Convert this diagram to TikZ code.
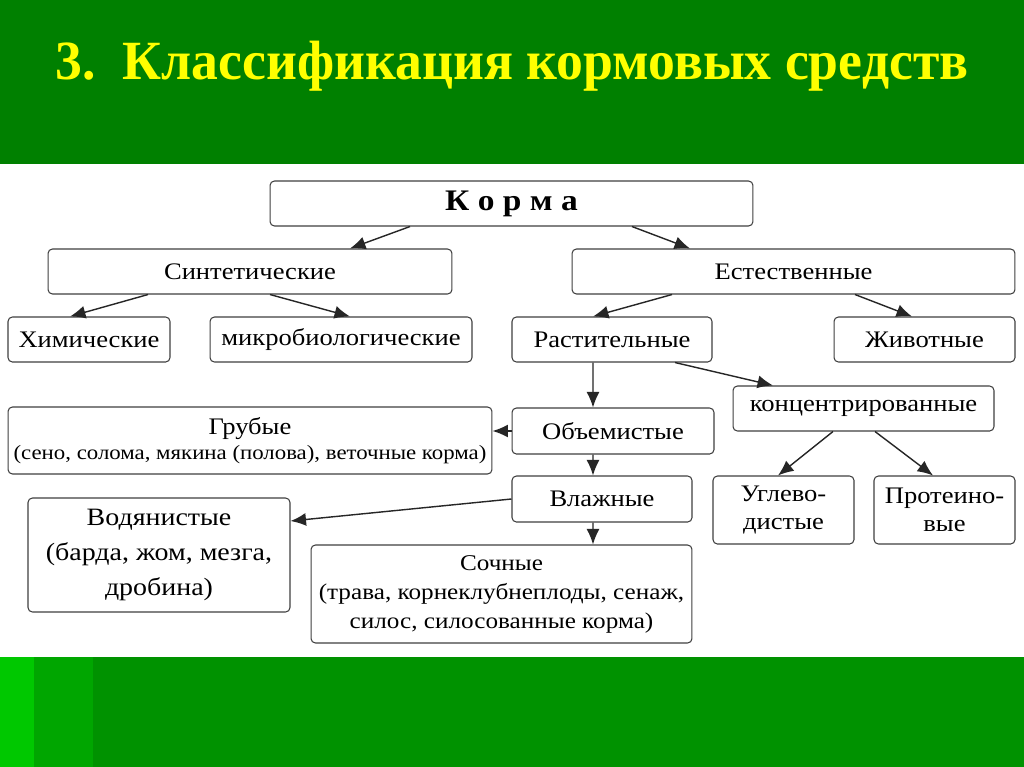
\documentclass[tikz,border=0pt]{standalone}
\usepackage{fontspec}
\usepackage{tikz}
\setmainfont{Liberation Serif}
\newfontfamily\boxfont[FakeStretch=1.12]{Liberation Serif}
\newfontfamily\titlefont[FakeStretch=0.97]{Liberation Serif}
\definecolor{topgreen}{RGB}{0,128,0}
\definecolor{botgreen}{RGB}{0,146,0}
\definecolor{stripeA}{RGB}{0,200,0}
\definecolor{stripeB}{RGB}{0,166,0}
\definecolor{titleyellow}{RGB}{255,255,0}
\usetikzlibrary{arrows.meta,calc}
\tikzset{box/.style = {draw=black!75, line width=0.6pt, rounded corners=2.5pt, fill=white,
    inner sep=0pt, align=center, minimum height=9mm, font=\boxfont\fontsize{13.5}{15}\selectfont},
  arr/.style = {-{Latex[length=3.1mm,width=2.6mm]}, line width=0.8pt, black!85}}

\begin{document}
\begin{tikzpicture}[x=0.02cm, y=-0.02cm]
      \useasboundingbox (0,0) rectangle (1024,767);
      % backgrounds
      \fill [topgreen] (0,0) rectangle (1024,164);
      \fill [white] (0,164) rectangle (1024,657);
      \fill [botgreen] (0,657) rectangle (1024,767);
      \fill [stripeA] (0,657) rectangle (34,767);
      \fill [stripeB] (34,657) rectangle (93,767);
      \node [font=\titlefont\bfseries\fontsize{31.5}{34}\selectfont, text=titleyellow] (title) at (512,66) {3.\ \ Классификация кормовых средств};
      % first levels
      \node [box, minimum width=96.6mm, font=\boxfont\bfseries\fontsize{17}{20}\selectfont] (korma) at (511.5,203.5) {К о р м а};
      \node [box, minimum width=80.8mm] (sint) at (250,271.5) {Синтетические};
      \node [box, minimum width=88.6mm] (estest) at (793.5,271.5) {Естественные};
      \node [box, minimum width=32.4mm] (khim) at (89,339.5) {Химические};
      \node [box, minimum width=52.4mm] (mikro) at (341,339.5) {микробиологические};
      \node [box, minimum width=40mm] (rast) at (612,339.5) {Растительные};
      \node [box, minimum width=36.2mm] (zhiv) at (924.5,339.5) {Животные};
      \node [box, minimum width=52.2mm] (konc) at (863.5,408.5) {концентрированные};
      % plant feeds
      \node [box, minimum width=96.8mm, minimum height=13.4mm] (grub) at (250,440.5)
        {Грубые\\[-1pt]{\fontsize{11.6}{13}\selectfont(сено, солома, мякина (полова), веточные корма)}};
      \node [box, minimum width=40.4mm, minimum height=9.2mm] (obem) at (613,431) {Объемистые};
      \node [box, minimum width=36mm, minimum height=9.2mm] (vlazh) at (602,499) {Влажные};
      \node [box, minimum width=28.2mm, minimum height=13.6mm] (uglev) at (783.5,510) {Углево-\\[1pt]дистые};
      \node [box, minimum width=28.2mm, minimum height=13.6mm] (prot) at (944.5,510) {Протеино-\\[1pt]вые};
      \node [box, minimum width=52.4mm, minimum height=22.8mm, font=\boxfont\fontsize{14.2}{20}\selectfont] (vodyan) at (159,555)
        {Водянистые\\(барда, жом, мезга,\\дробина)};
      \node [box, minimum width=76.2mm, minimum height=19.6mm, font=\boxfont\fontsize{12.8}{16.5}\selectfont] (sochn) at (501.5,594)
        {Сочные\\(трава, корнеклубнеплоды, сенаж,\\силос, силосованные корма)};
      % arrows
      \draw [arr] ([xshift=-20.3mm]korma.south) -- ([xshift=20mm]sint.north);
      \draw [arr] ([xshift=24.1mm]korma.south) -- ([xshift=-20.7mm]estest.north);
      \draw [arr] ([xshift=-20.4mm]sint.south) -- ([xshift=-3.8mm]khim.north);
      \draw [arr] ([xshift=4mm]sint.south) -- ([xshift=1.8mm]mikro.north);
      \draw [arr] ([xshift=-24.3mm]estest.south) -- ([xshift=-3.8mm]rast.north);
      \draw [arr] ([xshift=12.3mm]estest.south) -- ([xshift=-2.5mm]zhiv.north);
      \draw [arr] ([xshift=-3.8mm]rast.south) -- ([xshift=-4mm]obem.north);
      \draw [arr] ([xshift=12.6mm]rast.south) -- ([xshift=-18.1mm]konc.north);
      \draw [arr] (obem.west) -- (obem.west -| grub.east);
      \draw [arr] ([xshift=-4mm]obem.south) -- ([xshift=-1.8mm]vlazh.north);
      \draw [arr] (vlazh.west) -- ([yshift=6.8mm]vodyan.east);
      \draw [arr] ([xshift=-1.8mm]vlazh.south) -- ([xshift=18.3mm]sochn.north);
      \draw [arr] ([xshift=-6.1mm]konc.south) -- ([xshift=-1.1mm]uglev.north);
      \draw [arr] ([xshift=2.3mm]konc.south) -- ([xshift=-2.3mm]prot.north);
    \end{tikzpicture}
\end{document}
